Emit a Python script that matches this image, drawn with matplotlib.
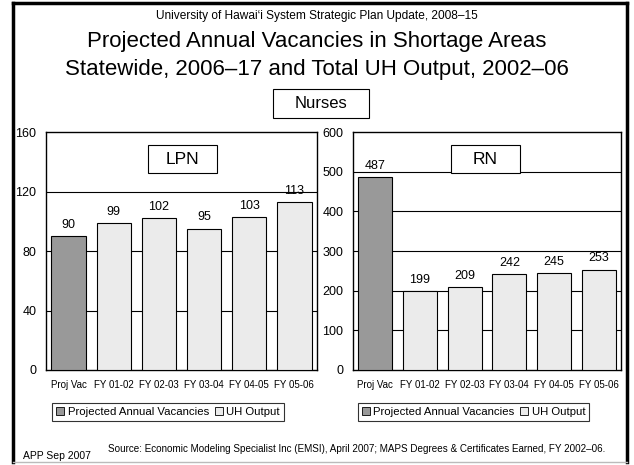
import matplotlib
matplotlib.use("Agg")
import matplotlib.pyplot as plt
from matplotlib.patches import Rectangle, Patch
from matplotlib.lines import Line2D

plt.rcParams['font.family'] = ['Liberation Sans', 'DejaVu Sans']

categories = ["Proj Vac", "FY 01-02", "FY 02-03", "FY 03-04", "FY 04-05", "FY 05-06"]
lpn_values = [90, 99, 102, 95, 103, 113]
rn_values = [487, 199, 209, 242, 245, 253]
lpn_ticks = [0, 40, 80, 120, 160]
rn_ticks = [0, 100, 200, 300, 400, 500, 600]
series_names = ["Projected Annual Vacancies", "UH Output"]

DARK = "#999999"
LIGHT = "#EBEBEB"

W, H = 634, 465
fig = plt.figure(figsize=(W / 100, H / 100), dpi=100)

def fx(x):
    return x / W

def fy(y):
    return 1 - y / H

# outer frame
fig.add_artist(Line2D([fx(13), fx(13)], [fy(462), fy(3)], color="black", lw=2.5, transform=fig.transFigure))
fig.add_artist(Line2D([fx(13), fx(627)], [fy(3), fy(3)], color="black", lw=2.5, transform=fig.transFigure))
fig.add_artist(Line2D([fx(627), fx(627)], [fy(3), fy(462)], color="black", lw=2.5, transform=fig.transFigure))
fig.add_artist(Line2D([fx(13), fx(627)], [fy(462), fy(462)], color="#bbbbbb", lw=1, transform=fig.transFigure))

fig.text(0.5, fy(19.5), "University of Hawai\u2018i System Strategic Plan Update, 2008\u201315",
         ha="center", va="baseline", fontsize=8.6)
fig.text(0.5, fy(47), "Projected Annual Vacancies in Shortage Areas",
         ha="center", va="baseline", fontsize=16)
fig.text(0.5, fy(75), "Statewide, 2006\u201317 and Total UH Output, 2002\u201306",
         ha="center", va="baseline", fontsize=16)

# Nurses box
fig.add_artist(Rectangle((fx(273), fy(118)), fx(369) - fx(273), fy(89) - fy(118),
                         transform=fig.transFigure, fill=False, ec="black", lw=0.8))
fig.text(fx(321), fy(104), "Nurses", ha="center", va="center", fontsize=12)

fig.text(fx(23), fy(456), "APP Sep 2007", ha="left", va="center", fontsize=7.5)
fig.text(fx(108), fy(449),
         "Source: Economic Modeling Specialist Inc (EMSI), April 2007; MAPS Degrees & Certificates Earned, FY 2002\u201306.",
         ha="left", va="center", fontsize=7.1)


def panel(left_px, right_px, values, ticks, label, label_box_px):
    top_px, bot_px = 132, 370
    ax = fig.add_axes([fx(left_px), fy(bot_px), fx(right_px) - fx(left_px), fy(top_px) - fy(bot_px)])
    x = list(range(len(categories)))
    colors = [DARK] + [LIGHT] * (len(categories) - 1)
    ax.bar(x, values, width=0.76, color=colors, edgecolor="black", linewidth=0.8, zorder=3)
    for xi, v in zip(x, values):
        ax.text(xi, v + (ticks[-1] * 0.022), str(v), ha="center", va="bottom", fontsize=9, zorder=1)
    for t in ticks[1:-1]:
        ax.axhline(t, color="black", lw=0.8, zorder=2)
    ax.set_xlim(-0.5, len(categories) - 0.5)
    ax.set_ylim(ticks[0], ticks[-1])
    ax.set_yticks(ticks)
    ax.set_yticklabels([str(t) for t in ticks])
    ax.set_xticks(x)
    ax.set_xticklabels(categories)
    ax.tick_params(axis="y", length=0, pad=7, labelsize=9)
    ax.tick_params(axis="x", length=0, pad=7, labelsize=7)
    for s in ax.spines.values():
        s.set_linewidth(1.0)
    # label box
    bx0, by0, bx1, by1 = label_box_px
    fig.add_artist(Rectangle((fx(bx0), fy(by1)), fx(bx1) - fx(bx0), fy(by0) - fy(by1),
                             transform=fig.transFigure, fc="white", ec="black", lw=0.8, zorder=5))
    fig.text(fx((bx0 + bx1) / 2), fy((by0 + by1) / 2), label, ha="center", va="center",
             fontsize=12.5, zorder=6)
    handles = [Patch(fc=DARK, ec="black", lw=0.6), Patch(fc=LIGHT, ec="black", lw=0.6)]
    leg = ax.legend(handles, series_names, ncol=2, loc="upper center",
                    bbox_to_anchor=(0.45, -0.138), fontsize=8.2, frameon=True, fancybox=False,
                    handlelength=0.7, handleheight=0.7, handletextpad=0.3, columnspacing=0.5,
                    borderpad=0.35, borderaxespad=0)
    leg.get_frame().set_edgecolor("black")
    leg.get_frame().set_linewidth(0.8)
    return ax


panel(46, 317, lpn_values, lpn_ticks, "LPN", (148, 145, 217, 173))
panel(353, 621, rn_values, rn_ticks, "RN", (451, 145, 520, 173))

fig.savefig("out.png", dpi=100)
